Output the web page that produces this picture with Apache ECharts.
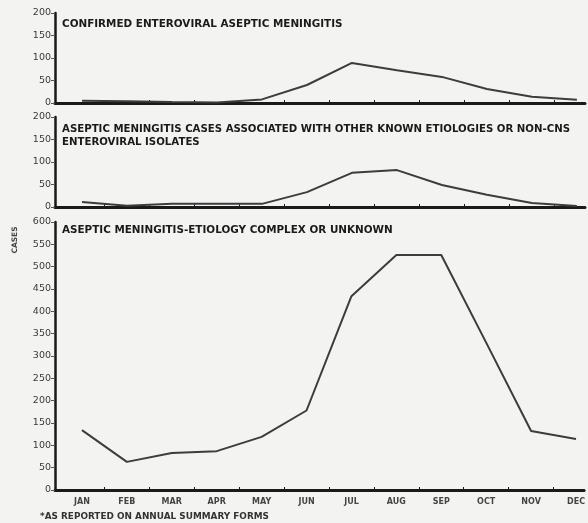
<!DOCTYPE html>
<html>
<head>
<meta charset="utf-8">
<script src="https://cdn.jsdelivr.net/npm/echarts@6/dist/echarts.min.js"></script>
<style>
  html, body { margin: 0; padding: 0; background: #f3f3f1; }
  #chart { width: 588px; height: 523px; }
</style>
</head>
<body>
<div id="chart"></div>
<script>
// data
const months = ["JAN","FEB","MAR","APR","MAY","JUN","JUL","AUG","SEP","OCT","NOV","DEC"];
const confirmed = [5, 4, 2, 1, 8, 40, 89, 73, 58, 31, 14, 7];
const otherEtiol = [11, 3, 7, 7, 7, 33, 76, 82, 49, 27, 9, 2];
const unknownEtiol = [134, 63, 83, 87, 119, 178, 434, 526, 526, 330, 132, 114];

const chart = echarts.init(document.getElementById('chart'), null, {renderer: 'canvas'});

const ink = '#1a1a1a';
const lineInk = '#3c3c3c';
const font = '"DejaVu Sans", "Liberation Sans", sans-serif';

// positions of the three stacked panels
const panels = [
    {top: 13, height: 90, max: 200},
    {top: 117, height: 90, max: 200},
    {top: 222, height: 268, max: 600}
];
const seriesData = [confirmed, otherEtiol, unknownEtiol];

function xAxis(idx, showLabels) {
    return {
        type: 'value',
        gridIndex: idx,
        min: -0.6,
        max: 11.18,
        axisLine: {show: true, lineStyle: {color: ink, width: 3}},
        axisTick: {
            show: true, inside: true, length: 3,
            customValues: months.slice(1).map((m, i) => i + 0.5),
            lineStyle: {color: ink, width: 1}
        },
        axisLabel: {
            show: showLabels,
            customValues: months.map((m, i) => i),
            formatter: v => months[Math.round(v)],
            color: '#444', fontSize: 8, fontWeight: 'bold', fontFamily: font, margin: 8
        },
        splitLine: {show: false}
    };
}

function yAxis(idx, max) {
    return {
        type: 'value',
        gridIndex: idx,
        min: 0,
        max: max,
        interval: 50,
        axisLine: {show: true, onZero: false, lineStyle: {color: ink, width: 2.5}},
        axisTick: {show: true, length: 4, lineStyle: {color: '#555', width: 1}},
        axisLabel: {color: '#3a3a3a', fontSize: 9.5, fontFamily: font, margin: 4},
        splitLine: {show: false}
    };
}

const option = {
    backgroundColor: '#f3f3f1',
    animation: false,
    grid: panels.map(p => ({left: 55, right: 3, top: p.top, height: p.height})),
    xAxis: panels.map((p, i) => xAxis(i, i === 2)),
    yAxis: panels.map((p, i) => yAxis(i, p.max)),
    series: seriesData.map((d, i) => ({
        type: 'line',
        xAxisIndex: i,
        yAxisIndex: i,
        data: d.map((v, k) => [k, v]),
        symbol: 'none',
        lineStyle: {color: lineInk, width: 2},
        silent: true
    })),
    graphic: [
        {type: 'text', left: 62, top: 19, style: {text: 'CONFIRMED ENTEROVIRAL ASEPTIC MENINGITIS', fill: ink, font: 'bold 10.4px ' + font}},
        {type: 'text', left: 62, top: 123, style: {text: 'ASEPTIC MENINGITIS CASES ASSOCIATED WITH OTHER KNOWN ETIOLOGIES OR NON-CNS\nENTEROVIRAL ISOLATES', fill: ink, font: 'bold 10.2px ' + font, lineHeight: 13}},
        {type: 'text', left: 62, top: 225, style: {text: 'ASEPTIC MENINGITIS-ETIOLOGY COMPLEX OR UNKNOWN', fill: ink, font: 'bold 10.4px ' + font}},
        {type: 'text', x: 15, y: 240, rotation: Math.PI / 2, style: {text: 'CASES', fill: '#444', font: 'bold 7.5px ' + font, align: 'center', verticalAlign: 'middle'}},
        {type: 'text', left: 40, top: 512, style: {text: '*AS REPORTED ON ANNUAL SUMMARY FORMS', fill: '#333', font: 'bold 8.9px ' + font}}
    ]
};

chart.setOption(option);
</script>
</body>
</html>
